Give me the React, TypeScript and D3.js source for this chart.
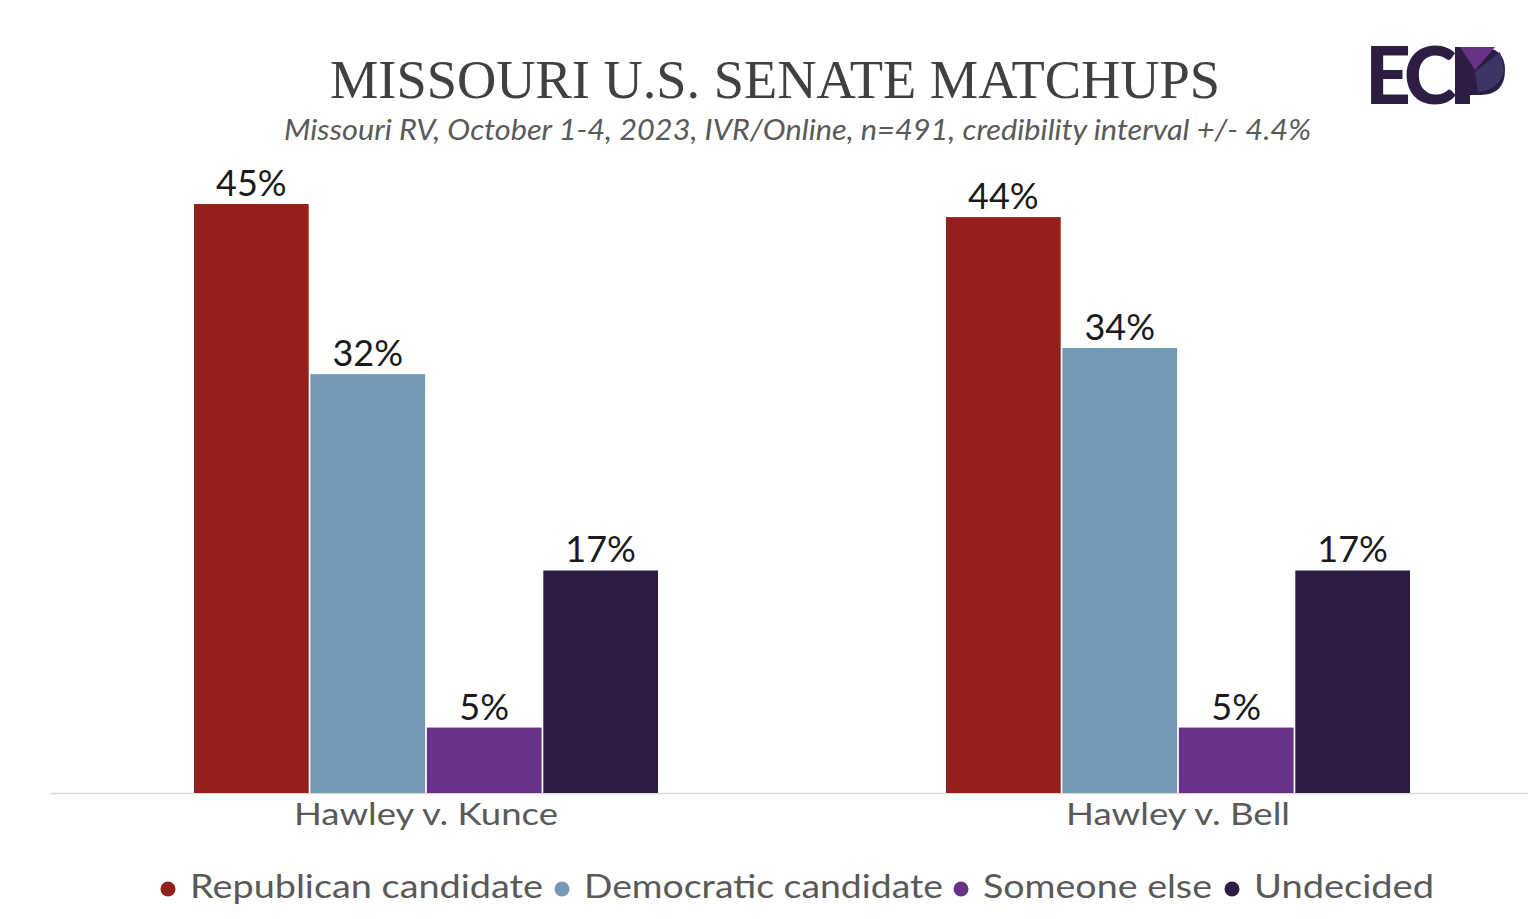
import React from "react";
import * as d3 from "d3";

const groups = ["Hawley v. Kunce", "Hawley v. Bell"];
const seriesNames = ["Republican candidate", "Democratic candidate", "Someone else", "Undecided"];
const seriesColors = ["#93201b", "#7399b4", "#6a3286", "#2c1d42"];
const kunceValues = [45, 32, 5, 17];
const bellValues = [44, 34, 5, 17];
const valuesByGroup = [kunceValues, bellValues];
const titleText = "MISSOURI U.S. SENATE MATCHUPS";
const subtitleText = "Missouri RV, October 1-4, 2023, IVR/Online, n=491, credibility interval +/- 4.4%";

const W = 1536;
const H = 919;
const baseY = 793;
const sans = "Lato, 'Noto Sans', sans-serif";

// layout (text widths matched to the reference)
const groupLabelWidths = [264, 224];
const legendX = [162, 556, 955, 1226];
const legendTextWidths = [353, 359, 229, 180];

export default function App() {
  const x0 = d3.scaleBand<string>().domain(groups).range([50, 1554]).padding(0);
  const innerW = 464;
  const x1 = d3.scaleBand<string>().domain(seriesNames).range([0, innerW]).paddingInner(0.015);
  const y = d3.scaleLinear().domain([0, 45]).range([baseY, 204]);

  return (
    <div style={{ margin: -8 }}>
      <svg width={W} height={H} style={{ display: "block", background: "#fff" }}>
        <text x={775} y={98} textAnchor="middle" fontFamily="'Liberation Serif', 'DejaVu Serif', serif" fontSize={55} fill="#404040" textLength={890} lengthAdjust="spacingAndGlyphs">{titleText}</text>
        <text x={797.5} y={140} textAnchor="middle" fontFamily={sans} fontStyle="italic" fontSize={28} fill="#595959" textLength={1027} lengthAdjust="spacingAndGlyphs">{subtitleText}</text>

        <line x1={50} x2={1536} y1={baseY + 0.5} y2={baseY + 0.5} stroke="#d9d9d9" strokeWidth={1.5} />

        {groups.map((g, gi) => {
          const gx = (x0(g) as number) + (x0.bandwidth() - innerW) / 2;
          return (
            <g key={g}>
              {seriesNames.map((s, si) => {
                const v = valuesByGroup[gi][si];
                const bx = gx + (x1(s) as number);
                return (
                  <g key={s}>
                    <rect x={bx} y={y(v)} width={x1.bandwidth()} height={baseY - y(v)} fill={seriesColors[si]} />
                    <text x={bx + x1.bandwidth() / 2} y={y(v) - 8} textAnchor="middle" fontFamily={sans} fontSize={36} fill="#1a1a1a">{v}%</text>
                  </g>
                );
              })}
              <text x={(x0(g) as number) + x0.bandwidth() / 2} y={825} textAnchor="middle" fontFamily={sans} fontSize={30} fill="#595959" textLength={groupLabelWidths[gi]} lengthAdjust="spacingAndGlyphs">{g}</text>
            </g>
          );
        })}

        {seriesNames.map((s, si) => (
          <g key={s}>
            <circle cx={legendX[si] + 6} cy={889} r={7.5} fill={seriesColors[si]} />
            <text x={legendX[si] + 28} y={898} fontFamily={sans} fontSize={33} fill="#595959" textLength={legendTextWidths[si]} lengthAdjust="spacingAndGlyphs">{s}</text>
          </g>
        ))}

        <g>
          <text x={1365} y={104} fontFamily="Lato, sans-serif" fontWeight={900} fontSize={80} fill="#2c1d42" letterSpacing={-6}>EC</text>
          <path d="M1455,47 L1480,47 Q1505,47 1505,70 Q1505,95 1480,95 L1470,95 L1470,104 L1455,104 Z" fill="#2c1d42" />
          <path d="M1460,47 L1495,47 L1475,70 Z" fill="#6a3286" />
          <path d="M1475,72 L1500,52 L1504,70 Q1500,90 1478,92 Z" fill="#3d3565" />
        </g>
      </svg>
    </div>
  );
}
